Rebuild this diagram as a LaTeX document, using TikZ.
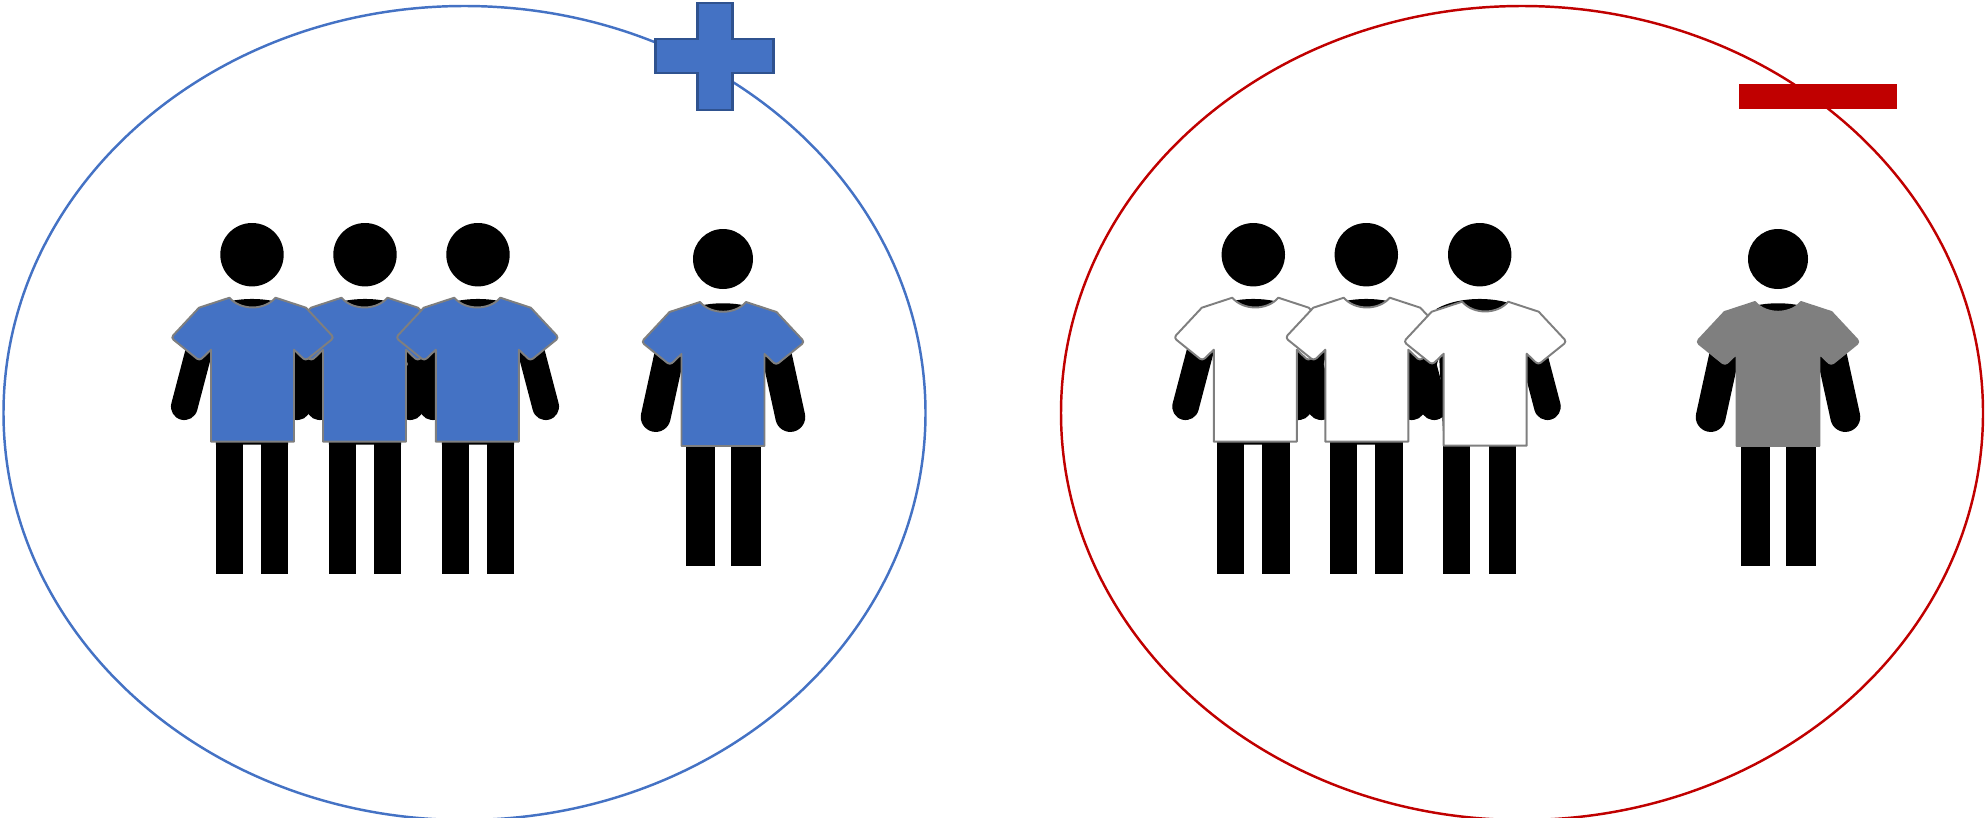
\documentclass[tikz,border=0pt]{standalone}
\definecolor{shirtblue}{HTML}{4472C4}
\definecolor{plusedge}{HTML}{2F528F}
\definecolor{minusred}{HTML}{C00000}
\definecolor{shirtgray}{HTML}{7F7F7F}
\begin{document}
\begin{tikzpicture}[x=0.01cm,y=-0.01cm]
    % Styles
    \tikzset{
      group circle/.style={line width=0.7pt},
      shirt line/.style={draw=shirtgray,line width=0.55pt,line join=round},
      arm line/.style={line cap=round,line width=#1},
      groupbody/.pic={
        \fill (0,0) circle (31.7);
        \fill (-43,54) .. controls (-20,41) and (20,41) .. (43,54) -- (36,190) -- (-36,190) -- cycle;
        \fill (-36.3,185) rectangle (-9.3,319);
        \fill (9,185) rectangle (36.3,319);
        \draw[arm line=7.6pt] (-50.9,88) -- (-67.7,152);
        \draw[arm line=7.6pt] (50.9,88) -- (67.7,152);
      },
      lonebody/.pic={
        \fill (0,0) circle (30);
        \fill (-43,54) .. controls (-20,41) and (20,41) .. (43,54) -- (37,187) -- (-37,187) -- cycle;
        \fill (-37.5,185) rectangle (-7.7,307);
        \fill (7.7,185) rectangle (37.7,307);
        \draw[arm line=8.5pt] (-52,88) -- (-67.3,158);
        \draw[arm line=8.5pt] (52,88) -- (67.3,158);
      },
      shirt/.pic={
        \draw[shirt line,fill=#1] (-23,43) .. controls (-12,56) and (12,56) .. (23,43)
          -- (53.5,53) [rounded corners=0.9pt] -- (81.5,83) -- (53,106) [sharp corners] -- (41.5,95) -- (41.5,187)
          -- (-41.5,187) -- (-41.5,95) [rounded corners=0.9pt] -- (-53,106) -- (-81.5,83) [sharp corners] -- (-53.5,53) -- cycle;
      }
    }
    \useasboundingbox (0,0) rectangle (1987,818);

    % --- Left group: circle and plus sign ---
    \draw[draw=shirtblue,group circle] (464.5,413) ellipse (461 and 407);
    \draw[fill=shirtblue,draw=plusedge,line width=0.85pt]
      (697,3) -- (732,3) -- (732,39) -- (773,39) -- (773,73) -- (732,73)
      -- (732,110) -- (697,110) -- (697,73) -- (655,73) -- (655,39) -- (697,39) -- cycle;

    % --- Left group: three people and one apart ---
    \foreach \px in {252,365,478}
      \pic at (\px,254.7) {groupbody};
    \pic at (723,259) {lonebody};
    \pic at (364.5,254.7) {shirt=shirtblue};
    \pic at (252.5,254.7) {shirt=shirtblue};
    \pic at (477.3,254.7) {shirt=shirtblue};
    \pic at (723,259) {shirt=shirtblue};

    % --- Right group: circle and minus sign ---
    \draw[draw=minusred,group circle] (1522,413) ellipse (461 and 407);
    \fill[minusred] (1739,84) rectangle (1897,109);

    % --- Right group: three people and one apart ---
    \foreach \px in {1253.3,1366.3,1479.7}
      \pic at (\px,254.7) {groupbody};
    \pic at (1778,259) {lonebody};
    \pic at (1255.3,254.7) {shirt=white};
    \pic at (1366.8,254.7) {shirt=white};
    \pic at (1485.2,258.7) {shirt=white};
    \pic at (1778,259) {shirt=shirtgray};
\end{tikzpicture}
\end{document}
